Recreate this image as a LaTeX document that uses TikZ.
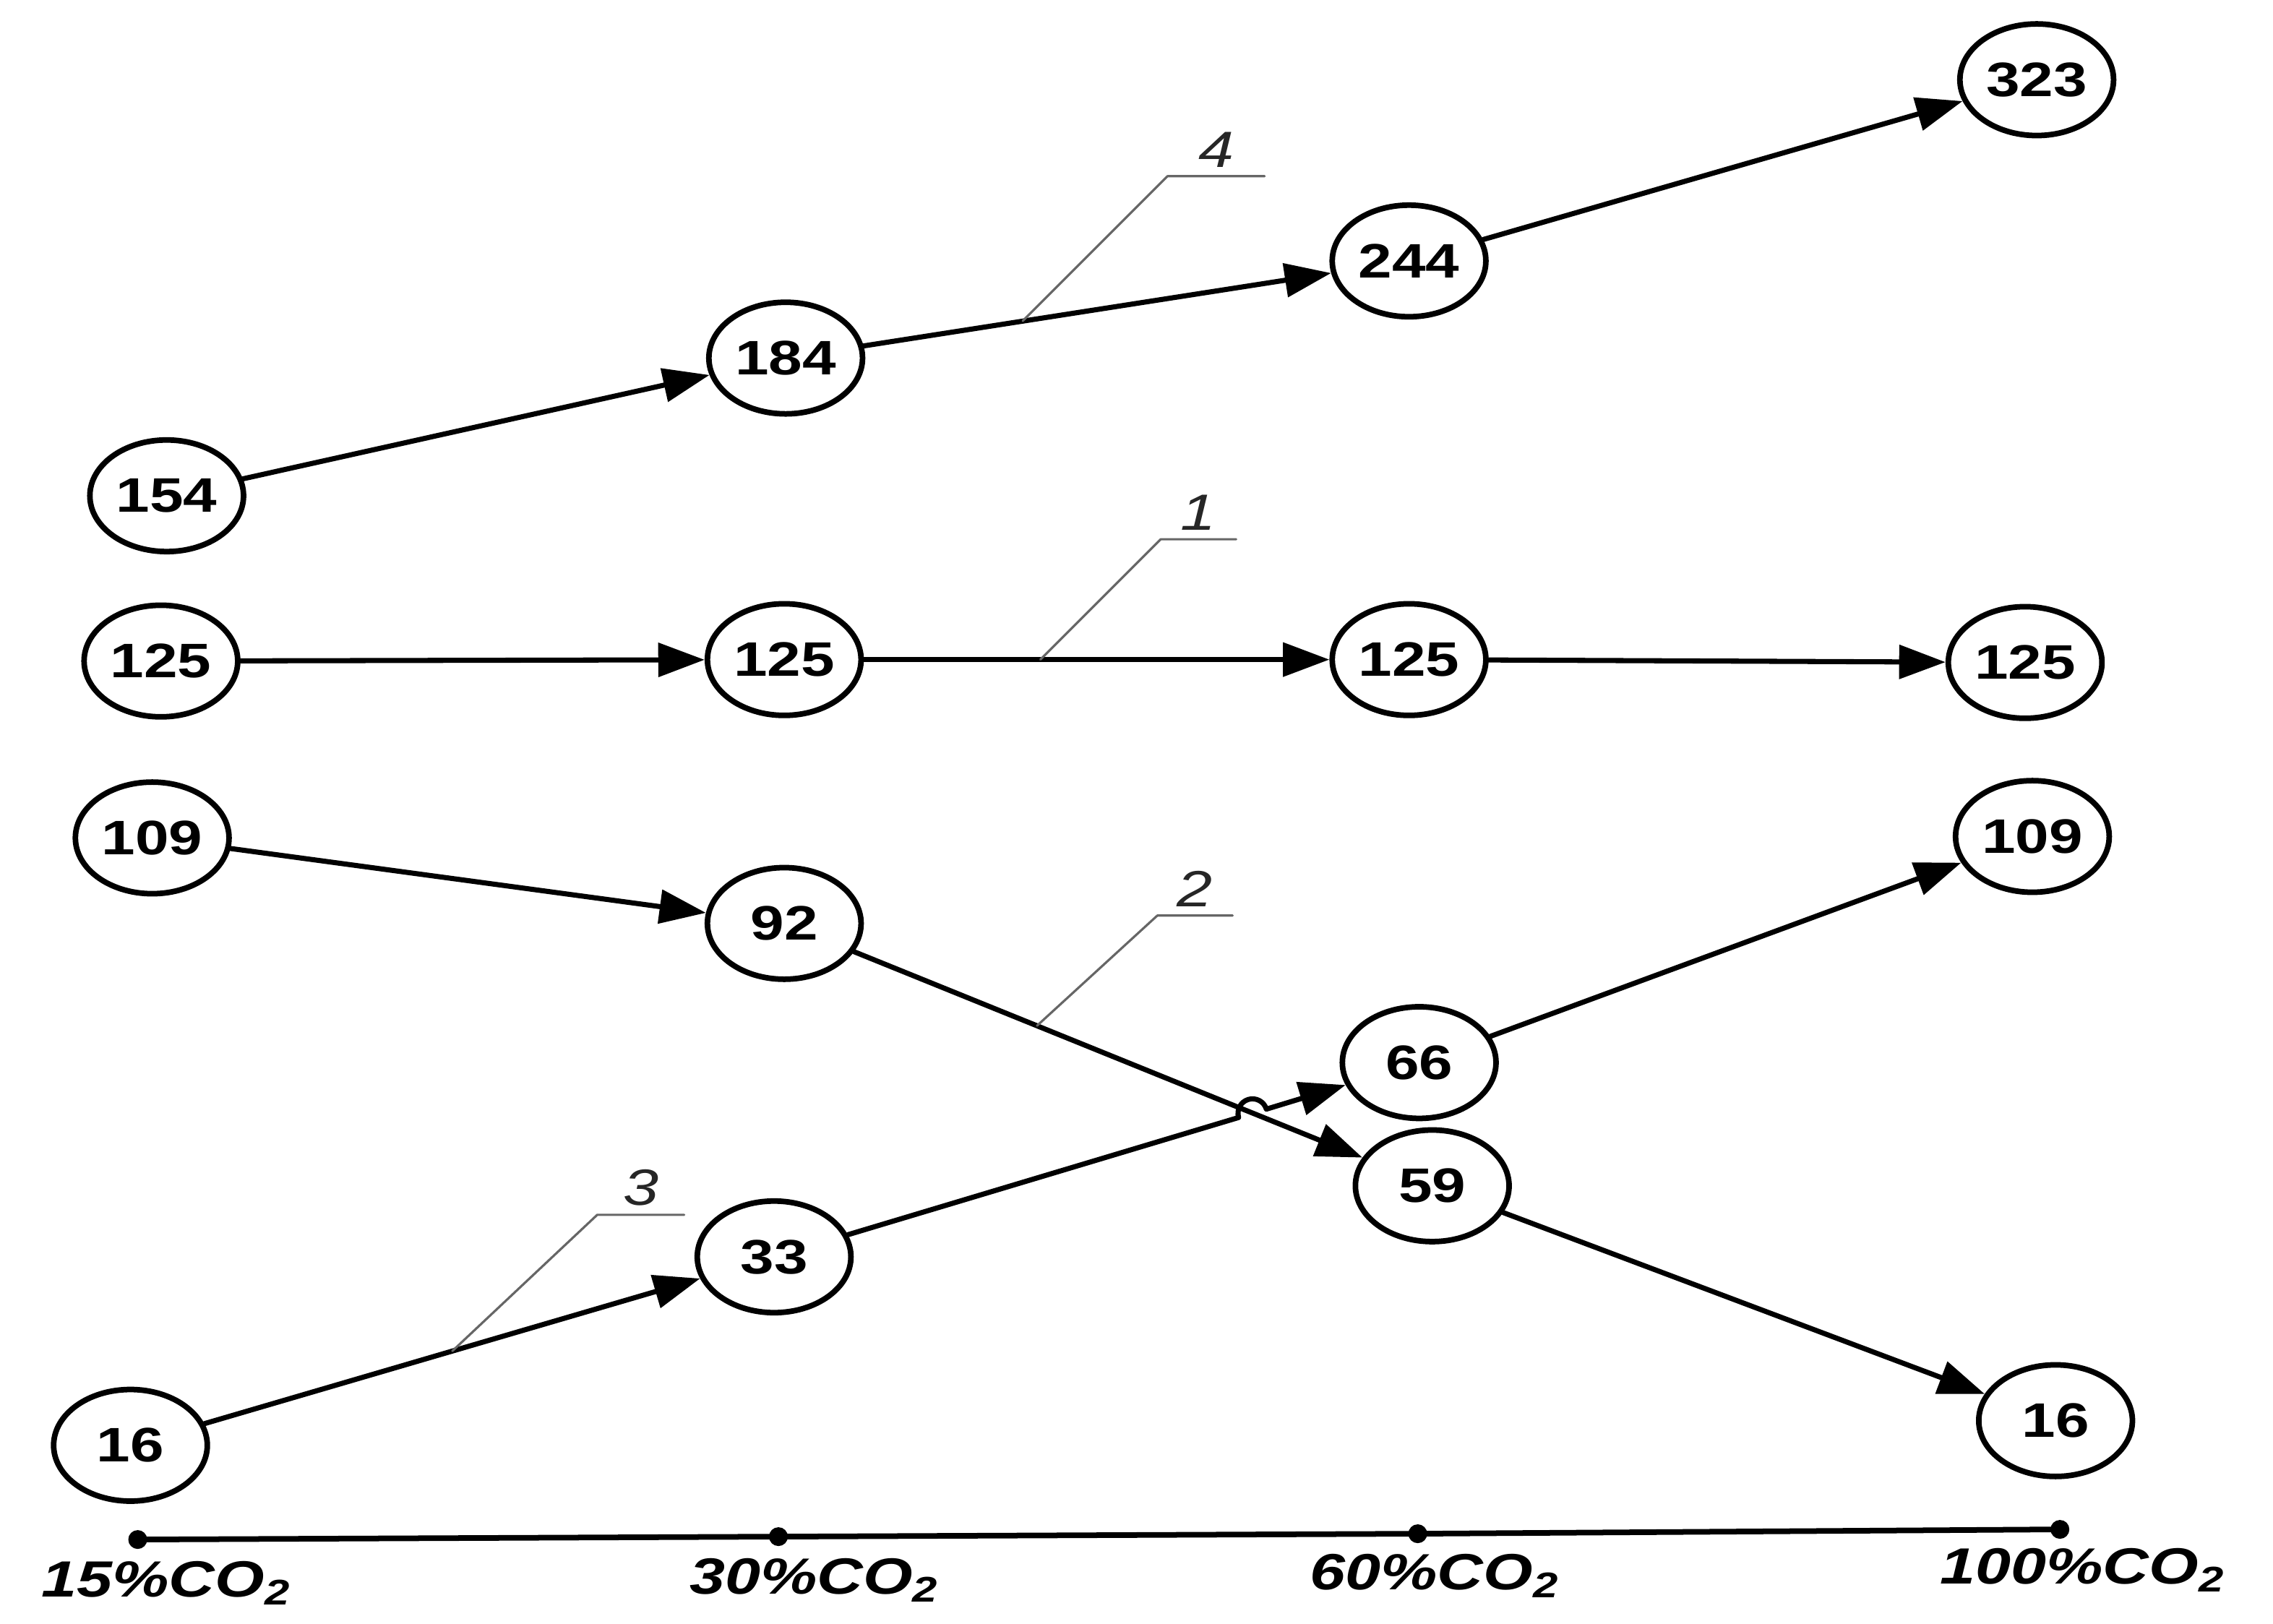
\documentclass[tikz,border=0pt]{standalone}
\usepackage{fontspec}
\setmainfont{Liberation Sans}[FakeStretch=1.25]
\usetikzlibrary{arrows.meta,calc,shapes.geometric}

\begin{document}
\begin{tikzpicture}[>={Triangle[length=3.2mm,width=2.3mm]}, line cap=round, line join=round,
		val/.style={draw, ellipse, line width=1.1pt, minimum width=1.06cm, minimum height=0.77cm,
			inner sep=0pt, font=\fontsize{9.5}{11}\selectfont\bfseries},
		conn/.style={->, line width=1.0pt},
		lead/.style={black!60, line width=0.45pt},
		tag/.style={black!85, inner sep=1.5pt, font=\fontsize{10}{12}\selectfont\itshape},
		axlab/.style={font=\fontsize{10}{12}\selectfont\bfseries\itshape}]
	
	\useasboundingbox (0,0) rectangle (15.68,-11.20);
	
	% --- Line 4 (top): 154 -> 184 -> 244 -> 323 ---
	\node[val] (n154) at (1.15,-3.42) {154};
	\node[val] (n184) at (5.42,-2.47) {184};
	\node[val] (n244) at (9.72,-1.80) {244};
	\node[val] (n323) at (14.05,-0.55) {323};
	\draw[conn] (n154) -- (n184);
	\draw[conn] (n184) -- (n244);
	\draw[conn] (n244) -- (n323);
	
	% --- Line 1: constant 125 ---
	\node[val] (a1) at (1.11,-4.56) {125};
	\node[val] (a2) at (5.41,-4.55) {125};
	\node[val] (a3) at (9.72,-4.55) {125};
	\node[val] (a4) at (13.97,-4.57) {125};
	\draw[conn] (a1) -- (a2);
	\draw[conn] (a2) -- (a3);
	\draw[conn] (a3) -- (a4);
	
	% --- Line 2: 109 -> 92 -> 59 -> 16 ---
	\node[val] (b109) at (1.05,-5.78) {109};
	\node[val] (b92) at (5.41,-6.37) {92};
	\node[val] (b59) at (9.88,-8.18) {59};
	\node[val] (b16) at (14.18,-9.80) {16};
	\draw[conn] (b109) -- (b92);
	\draw[conn] (b92) -- (b59);
	\draw[conn] (b59) -- (b16);
	
	% --- Line 3: 16 -> 33 -> 66 -> 109 (hop over line 2) ---
	\node[val] (c16) at (0.90,-9.97) {16};
	\node[val] (c33) at (5.34,-8.67) {33};
	\node[val] (c66) at (9.79,-7.33) {66};
	\node[val] (c109) at (14.02,-5.77) {109};
	\coordinate (hop) at (8.64,-7.68);
	\draw[conn] (c16) -- (c33);
	\draw[conn] (c33) -- ($(hop)+(196.8:0.1)$) arc[start angle=196.8, end angle=16.8, radius=0.1] -- (c66);
	\draw[conn] (c66) -- (c109);
	
	% --- leader lines with line numbers ---
	\coordinate (f4) at ($(n184)!0.38!(n244)$);
	\draw[lead] (f4) -- ++(1.0,1.0) -- ++(0.67,0) node[midway, above, tag] {4};
	\coordinate (f1) at ($(a2)!0.41!(a3)$);
	\draw[lead] (f1) -- ++(0.83,0.83) -- ++(0.52,0) node[midway, above, tag] {1};
	\coordinate (f2) at ($(b92)!0.39!(b59)$);
	\draw[lead] (f2) -- ++(0.83,0.76) -- ++(0.52,0) node[midway, above, tag] {2};
	\coordinate (f3) at ($(c16)!0.50!(c33)$);
	\draw[lead] (f3) -- ++(1.0,0.94) -- ++(0.60,0) node[midway, above, tag] {3};
	
	% --- CO2 axis ---
	\coordinate (ax1) at (0.95,-10.62);
	\coordinate (ax2) at (5.37,-10.60);
	\coordinate (ax3) at (9.78,-10.58);
	\coordinate (ax4) at (14.21,-10.55);
	\draw[line width=1.1pt] (ax1) -- (ax2) -- (ax3) -- (ax4);
	\foreach \p in {ax1,ax2,ax3,ax4}
		\fill (\p) circle (0.065);
	\node[axlab] (lab15) at (1.15,-10.92) {15\%CO\textsubscript{2}};
	\node[axlab] (lab30) at (5.62,-10.90) {30\%CO\textsubscript{2}};
	\node[axlab] (lab60) at (9.90,-10.87) {60\%CO\textsubscript{2}};
	\node[axlab] (lab100) at (14.37,-10.83) {100\%CO\textsubscript{2}};
	
\end{tikzpicture}
\end{document}
